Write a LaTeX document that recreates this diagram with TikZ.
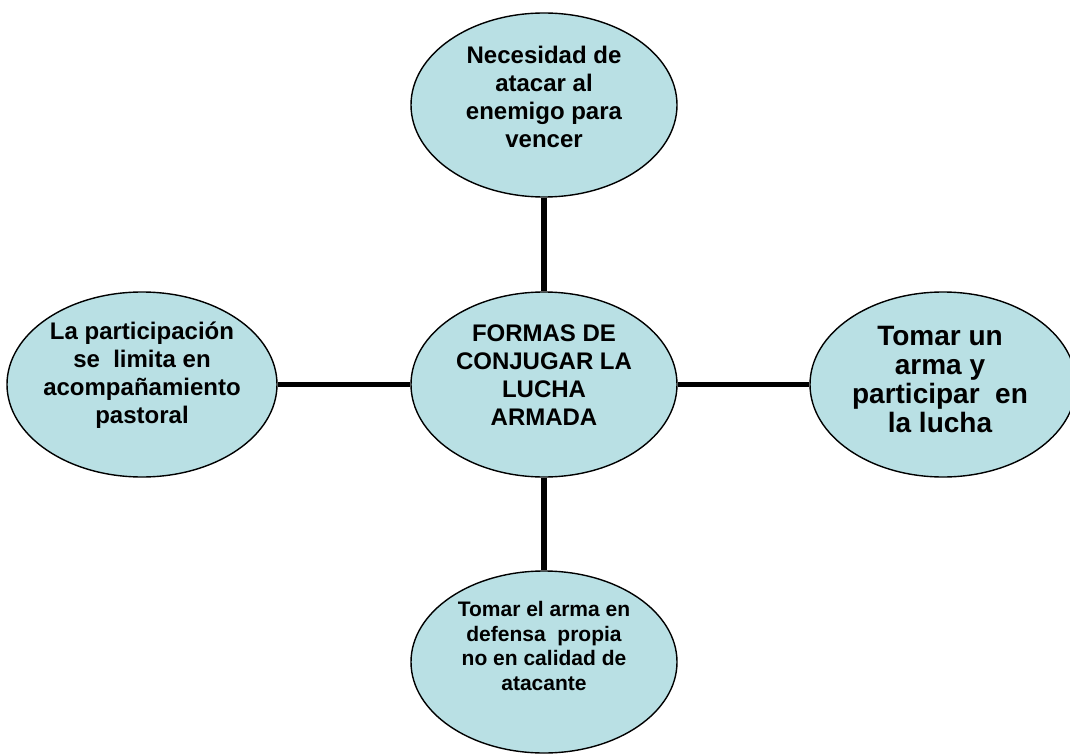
\documentclass[tikz,border=0pt]{standalone}
\usepackage{fontspec}
\setmainfont{Liberation Sans}
\usetikzlibrary{shapes.geometric}
\definecolor{bubblefill}{RGB}{185,224,228}
\begin{document}
\begin{tikzpicture}[x=1pt,y=-1pt,
  bubble/.style={ellipse, draw=black, line width=1.4pt, fill=bubblefill, inner sep=0pt},
  link/.style={line width=5.5pt, draw=black},
  txt/.style={align=center, inner sep=0pt, text=black},
  fnormal/.style={font=\bfseries\fontsize{24}{28}\selectfont},
  fsmall/.style={font=\bfseries\fontsize{21}{24.5}\selectfont},
  fbig/.style={font=\bfseries\fontsize{28}{29}\selectfont}]
\useasboundingbox (0,0) rectangle (1070,754);
\clip (0,0) rectangle (1070,754);
% ellipses
\node[bubble, minimum width=266pt, minimum height=184pt] (top) at (544,105) {};
\node[bubble, minimum width=266pt, minimum height=185pt] (center) at (544,384.5) {};
\node[bubble, minimum width=270pt, minimum height=185pt] (left) at (142,384.5) {};
\node[bubble, minimum width=266pt, minimum height=185pt] (right) at (943,384.5) {};
\node[bubble, minimum width=266pt, minimum height=182pt] (bottom) at (544,662) {};
% connectors
\draw[link] (top) -- (center);
\draw[link] (center) -- (bottom);
\draw[link] (left) -- (center);
\draw[link] (center) -- (right);
% texts
\node[txt, fnormal] (toptext) at (544,96.5) {Necesidad de\\atacar al\\enemigo para\\vencer};
\node[txt, fnormal] (centertext) at (544,375.5) {FORMAS DE\\CONJUGAR LA\\LUCHA\\ARMADA};
\node[txt, fnormal] (lefttext) at (142,375) {La participación\\se\ \ limita en\\acompañamiento\\pastoral};
\node[txt, fbig] (righttext) at (940,380) {Tomar un\\arma y\\participar\ \ en\\la lucha};
\node[txt, fsmall] (bottomtext) at (544,646) {Tomar el arma en\\defensa\ \ propia\\no en calidad de\\atacante};
\end{tikzpicture}
\end{document}
